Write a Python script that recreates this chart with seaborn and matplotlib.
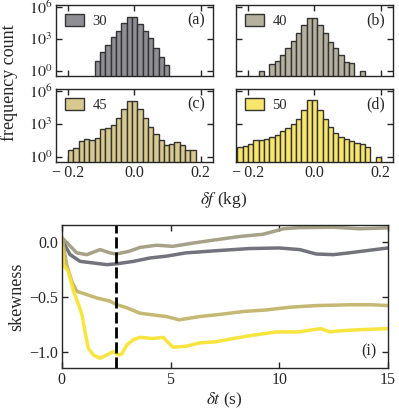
import numpy as np
import pandas as pd
import matplotlib
matplotlib.use('Agg')
import matplotlib.pyplot as plt
from matplotlib.patches import Patch
from matplotlib.ticker import NullLocator
import seaborn as sns

# histogram bins shared by the four panels (kg)
bin_edges = [-0.247, -0.231, -0.215, -0.199, -0.183, -0.167, -0.151, -0.135,
             -0.119, -0.103, -0.087, -0.071, -0.055, -0.039, -0.023, -0.007,
             0.009, 0.025, 0.041, 0.057, 0.073, 0.089, 0.105, 0.121,
             0.137, 0.153, 0.169, 0.185, 0.201]

# counts per bin
counts_30 = [0, 0, 0, 0, 0, 0, 0, 0,
             9, 65, 275, 1450, 6000, 30000, 126000, 124000,
             28000, 5800, 1400, 155, 22, 4, 0, 0, 0, 0, 0, 0]
counts_40 = [0, 0, 0, 0, 0, 1, 0, 5,
             9, 32, 155, 690, 3400, 20000, 100000, 100000,
             20000, 3400, 560, 135, 32, 7, 6, 0, 1, 0, 0, 0]
counts_45 = [0, 0, 0, 4, 6, 26, 46, 32,
             52, 316, 390, 800, 3400, 24000, 115000, 115000,
             24000, 3400, 525, 123, 36, 11, 15, 20, 12, 4, 4, 0]
counts_50 = [0, 7, 10, 15, 32, 36, 46, 65,
             107, 220, 390, 930, 2750, 20000, 145000, 145000,
             20000, 2750, 525, 155, 60, 46, 30, 18, 14, 8, 0, 1]

masses = ['30', '40', '45', '50']
panel_tags = ['(a)', '(b)', '(c)', '(d)']
bar_colors = ['#8e8e94', '#b6b19f', '#d8c98f', '#f8e66c']
line_colors = ['#6b6b76', '#a29c82', '#c2b46b', '#f8e334']

# skewness vs time lag
t_30 = [0.0, 0.38, 0.84, 1.45, 2.07, 2.5, 3.3, 4.06, 4.8, 5.7, 7.1, 8.65,
        10.0, 10.95, 11.7, 12.5, 13.2, 14.0, 15.0]
skew_30 = [0.02, -0.116, -0.177, -0.192, -0.207, -0.2, -0.177, -0.146, -0.13,
           -0.10, -0.08, -0.06, -0.055, -0.07, -0.11, -0.116, -0.10, -0.08, -0.055]
t_40 = [0.0, 0.69, 1.15, 1.76, 2.22, 2.5, 3.1, 3.6, 4.36, 5.1, 6.05, 7.1,
        8.2, 9.26, 10.2, 10.9, 12.5, 13.7, 15.0]
skew_40 = [0.04, -0.10, -0.116, -0.07, -0.10, -0.11, -0.085, -0.05, -0.03,
           -0.04, -0.01, 0.02, 0.05, 0.07, 0.12, 0.13, 0.134, 0.12, 0.128]
t_45 = [0.0, 0.23, 0.46, 0.69, 1.15, 1.6, 2.22, 2.5, 2.99, 3.6, 4.2, 4.8,
        5.4, 6.35, 7.3, 8.35, 9.4, 10.5, 11.7, 13.2, 14.3, 15.0]
skew_45 = [0.04, -0.21, -0.36, -0.45, -0.48, -0.51, -0.54, -0.57, -0.60, -0.65,
           -0.665, -0.68, -0.71, -0.68, -0.66, -0.634, -0.62, -0.595, -0.58,
           -0.573, -0.573, -0.58]
t_50 = [0.0, 0.08, 0.3, 0.54, 0.77, 0.92, 1.07, 1.22, 1.45, 1.76, 2.07, 2.37,
        2.6, 2.76, 2.99, 3.3, 3.6, 4.2, 4.67, 4.9, 5.13, 5.74, 6.35, 7.1, 7.9,
        8.8, 9.9, 10.9, 11.9, 12.35, 12.8, 13.7, 15.0]
skew_50 = [-0.02, -0.21, -0.27, -0.45, -0.57, -0.66, -0.82, -0.97, -1.03, -1.06,
           -1.03, -1.0, -1.03, -1.02, -0.94, -0.89, -0.87, -0.88, -0.87, -0.92,
           -0.96, -0.95, -0.92, -0.91, -0.88, -0.85, -0.82, -0.82, -0.79, -0.82,
           -0.81, -0.80, -0.79]
t_mark = 2.5

sns.set_style('ticks')
plt.rcParams['font.family'] = ['Liberation Serif', 'DejaVu Serif']
plt.rcParams['mathtext.fontset'] = 'stix'
plt.rcParams['font.size'] = 11.5
plt.rcParams['axes.linewidth'] = 1.0

fig = plt.figure(figsize=(3.99, 4.15), dpi=100)

edges = np.array(bin_edges)
centers = (edges[:-1] + edges[1:]) / 2
all_counts = [counts_30, counts_40, counts_45, counts_50]
hist_pos = [[0.140, 0.817, 0.393, 0.171], [0.591, 0.817, 0.393, 0.171],
            [0.140, 0.610, 0.393, 0.176], [0.591, 0.610, 0.393, 0.176]]

for i in range(4):
    ax = fig.add_axes(hist_pos[i])
    hd = pd.DataFrame({'df': centers, 'count': all_counts[i]})
    hd = hd[hd['count'] > 0]
    sns.histplot(data=hd, x='df', weights='count', bins=list(bin_edges), ax=ax,
                 color=bar_colors[i], alpha=1, edgecolor='#333333', linewidth=1.0)
    ax.set_yscale('log')
    ax.set_ylim(0.34, 1.6e6)
    ax.set_xlim(-0.236, 0.236)
    ax.set_yticks([1, 1e3, 1e6])
    ax.yaxis.set_minor_locator(NullLocator())
    ax.set_xticks([-0.2, 0.0, 0.2])
    ax.set_ylabel('')
    ax.set_xlabel('')
    ax.tick_params(direction='in', top=True, right=True, length=4, width=1,
                   labelsize=11.5, pad=2.5)
    if i < 2:
        ax.set_xticklabels([])
    else:
        ax.set_xticklabels(['\u2212\u20090.2', '0.0', '0.2'])
    if i % 2 == 1:
        ax.set_yticklabels([])
    else:
        ax.set_yticklabels(['$10^0$', '$10^3$', '$10^6$'])
    ax.legend(handles=[Patch(facecolor=bar_colors[i], edgecolor='#333333', lw=1.0,
                             label=masses[i])],
              loc='upper left', frameon=False, fontsize=10.5, handlelength=1.3,
              handleheight=0.9, handletextpad=0.6, borderaxespad=0.2)
    ax.text(0.95, 0.9, panel_tags[i], transform=ax.transAxes, ha='right', va='top',
            fontsize=11.5)

fig.text(9 / 399, 1 - 83 / 415, 'frequency count', rotation=90, ha='center',
         va='center', fontsize=13)
fig.text(224 / 399, 1 - 200 / 415, r'$\delta f$ (kg)', ha='center', va='center',
         fontsize=12.5)

# skewness panel
rows = []
for m, ts, ss in zip(masses, [t_30, t_40, t_45, t_50],
                     [skew_30, skew_40, skew_45, skew_50]):
    for t, s in zip(ts, ss):
        rows.append({'t': t, 'skew': s, 'mass': m})
df = pd.DataFrame(rows)

ax = fig.add_axes([0.155, 0.113, 0.817, 0.345])
sns.lineplot(data=df, x='t', y='skew', hue='mass', palette=line_colors,
             estimator=None, sort=False, lw=2.5, alpha=0.95, legend=False, ax=ax)
ax.axvline(t_mark, color='black', ls=(0, (4, 1.4)), lw=2.0)
ax.set_xlim(0, 15)
ax.set_ylim(-1.15, 0.155)
ax.set_xticks([0, 5, 10, 15])
ax.set_yticks([0.0, -0.5, -1.0])
ax.set_yticklabels(['0.0', '\u22120.5', '\u22121.0'])
ax.tick_params(direction='in', top=True, right=True, length=4, width=1,
               labelsize=11.5, pad=2.5)
ax.set_xlabel(r'$\delta t$ (s)', fontsize=12.5, labelpad=2)
ax.set_ylabel('skewness', fontsize=13, labelpad=3)
ax.text(0.965, 0.06, '(i)', transform=ax.transAxes, ha='right', va='bottom',
        fontsize=11.5)

fig.savefig('out.png', dpi=100)
